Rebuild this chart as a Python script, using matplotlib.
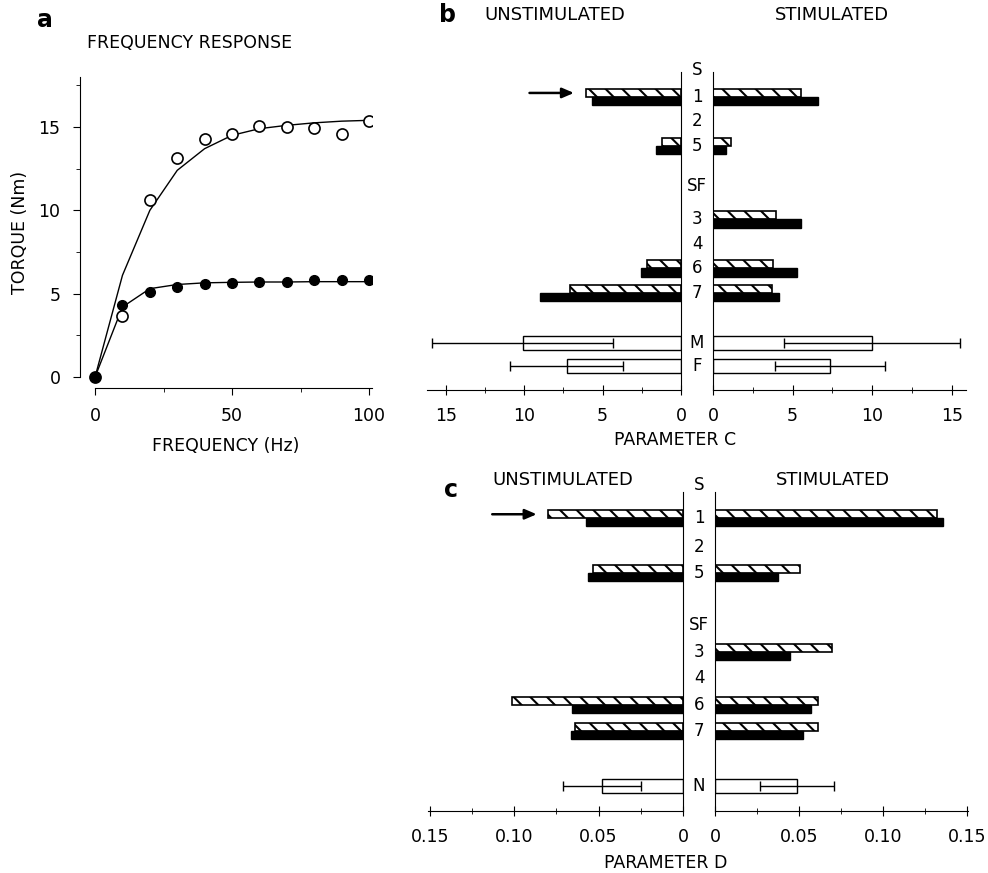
import numpy as np
import matplotlib
matplotlib.use('Agg')
import matplotlib.pyplot as plt
from matplotlib.transforms import blended_transform_factory

plt.rcParams['font.family'] = ['DejaVu Sans']
plt.rcParams['hatch.linewidth'] = 1.5

# ---- panel a : frequency response ----
freq = [0, 10, 20, 30, 40, 50, 60, 70, 80, 90, 100]
torque_open = [0, 3.65, 10.6, 13.15, 14.25, 14.6, 15.05, 14.97, 14.95, 14.6, 15.35]
torque_open_fit = [0, 6.1, 10.0, 12.4, 13.7, 14.5, 14.9, 15.1, 15.25, 15.35, 15.4]
torque_filled = [0, 4.3, 5.1, 5.4, 5.58, 5.66, 5.7, 5.73, 5.8, 5.8, 5.8]
torque_filled_fit = [0, 4.2, 5.3, 5.55, 5.65, 5.68, 5.7, 5.7, 5.72, 5.72, 5.72]

# ---- panel b : parameter C ----
rows_b = ['S', '1', '2', '5', 'SF', '3', '4', '6', '7', 'M', 'F']
muscles_b = ['1', '5', '3', '6', '7']
c_unstim_hatch = [6.05, 1.2, 0, 2.15, 7.05]
c_unstim_solid = [5.65, 1.6, 0, 2.55, 9.0]
c_stim_hatch = [5.55, 1.15, 3.95, 3.8, 3.7]
c_stim_solid = [6.6, 0.8, 5.55, 5.25, 4.15]
groups_b = ['M', 'F']
c_unstim_mean = [10.1, 7.3]
c_unstim_sd = [5.75, 3.6]
c_stim_mean = [10.0, 7.35]
c_stim_sd = [5.55, 3.45]

# ---- panel c : parameter D ----
rows_c = ['S', '1', '2', '5', 'SF', '3', '4', '6', '7', 'N']
muscles_c = ['1', '5', '3', '6', '7']
d_unstim_hatch = [0.080, 0.053, 0, 0.1015, 0.064]
d_unstim_solid = [0.0575, 0.0565, 0, 0.066, 0.0665]
d_stim_hatch = [0.132, 0.0506, 0.0696, 0.0613, 0.0613]
d_stim_solid = [0.1357, 0.0375, 0.0446, 0.057, 0.0524]
groups_c = ['N']
d_unstim_mean = [0.048]
d_unstim_sd = [0.023]
d_stim_mean = [0.0488]
d_stim_sd = [0.022]

# layout (row slots, not data)
pos_b = [0, 1.1, 2.1, 3.1, 4.75, 6.1, 7.1, 8.1, 9.1, 11.15, 12.1]
pos_c = [0, 1.25, 2.34, 3.32, 5.28, 6.3, 7.28, 8.3, 9.28, 11.36]

W, H = 988, 873
fig = plt.figure(figsize=(W / 100, H / 100), dpi=100)


def box(l, r, t, b):
    return [l / W, 1 - b / H, (r - l) / W, (b - t) / H]


FS = 12.5

# ---------------- panel a ----------------
ax = fig.add_axes(box(80, 372, 77, 388))
ax.plot(freq, torque_open_fit, color='black', lw=1)
ax.plot(freq, torque_filled_fit, color='black', lw=1)
ax.plot(freq, torque_open, 'o', mfc='white', mec='black', ms=8, mew=1.2)
ax.plot(freq, torque_filled, 'o', color='black', ms=7)
ax.set_xlim(-5.5, 101.1)
ax.set_ylim(-0.66, 18)
ax.spines['top'].set_visible(False)
ax.spines['right'].set_visible(False)
ax.spines['left'].set_bounds(0, 18)
ax.spines['bottom'].set_bounds(0, 101)
ax.set_xticks([0, 50, 100])
ax.set_xticks([25, 75], minor=True)
ax.set_yticks([0, 5, 10, 15])
ax.set_yticks([2.5, 7.5, 12.5, 17.5], minor=True)
ax.tick_params(which='major', direction='out', length=5, pad=9, labelsize=FS)
ax.tick_params(which='minor', direction='out', length=3)
ax.set_xlabel('FREQUENCY (Hz)', fontsize=FS, labelpad=8)
ax.set_ylabel('TORQUE (Nm)', fontsize=FS, labelpad=7)
fig.text(190 / W, 1 - 43 / H, 'FREQUENCY RESPONSE', ha='center', va='center', fontsize=FS)
fig.text(45 / W, 1 - 20 / H, 'a', ha='center', va='center', fontsize=17, fontweight='bold')


def half(ax, side, hatch_vals, solid_vals, mean, sd, rows, pos, muscles, groups,
         off, bh, boxh, xmax, major, minor):
    lookup = dict(zip(rows, pos))
    hy = [lookup[m] - off for m, v in zip(muscles, hatch_vals) if v > 0]
    hv = [v for v in hatch_vals if v > 0]
    sy = [lookup[m] + off for m, v in zip(muscles, solid_vals) if v > 0]
    sv = [v for v in solid_vals if v > 0]
    yg = [lookup[g] for g in groups]
    ax.barh(hy, hv, height=bh, color='white', edgecolor='black',
            hatch='\\\\', lw=1.2)
    ax.barh(sy, sv, height=bh, color='black', edgecolor='black', lw=1)
    ax.barh(yg, mean, height=boxh, color='white', edgecolor='black', lw=1)
    ax.errorbar(mean, yg, xerr=sd, fmt='none', ecolor='black', elinewidth=1,
                capsize=3.5, capthick=1)
    if side == 'left':
        ax.set_xlim(xmax, 0)
        ax.spines['left'].set_visible(False)
    else:
        ax.set_xlim(0, xmax)
        ax.spines['right'].set_visible(False)
    ax.spines['top'].set_visible(False)
    ax.set_yticks([])
    ax.set_xticks(major)
    ax.set_xticks(minor, minor=True)
    ax.tick_params(which='major', direction='inout', length=7, pad=9, labelsize=FS)
    ax.tick_params(which='minor', direction='inout', length=5)


# ---------------- panel b ----------------
axbL = fig.add_axes(box(427, 681, 72, 390))
axbR = fig.add_axes(box(713, 966, 72, 390))
tick_b = [0, 5, 10, 15]
minor_b = [2.5, 7.5, 12.5]
half(axbL, 'left', c_unstim_hatch, c_unstim_solid, c_unstim_mean, c_unstim_sd,
     rows_b, pos_b, muscles_b, groups_b, 0.165, 0.33, 0.57, 16.2, tick_b, minor_b)
half(axbR, 'right', c_stim_hatch, c_stim_solid, c_stim_mean, c_stim_sd,
     rows_b, pos_b, muscles_b, groups_b, 0.165, 0.33, 0.57, 15.9, tick_b, minor_b)
for a_ in (axbL, axbR):
    a_.set_ylim(13.06, 0.08)
axbL.set_xticklabels(['0', '5', '10', '15'])

tr = blended_transform_factory(fig.transFigure, axbL.transData)
for r, p in zip(rows_b, pos_b):
    axbL.text(697 / W, p, r, transform=tr, ha='center', va='center',
              fontsize=12, clip_on=False)
axbL.annotate('', xy=(c_unstim_hatch[0] + 0.6, pos_b[1] - 0.165),
              xytext=(-36, 0), textcoords='offset points',
              arrowprops=dict(arrowstyle='-|>,head_length=0.7,head_width=0.3',
                              color='black', lw=1.8))
fig.text(555 / W, 1 - 15 / H, 'UNSTIMULATED', ha='center', va='center', fontsize=13)
fig.text(832 / W, 1 - 15 / H, 'STIMULATED', ha='center', va='center', fontsize=13)
fig.text(447 / W, 1 - 15 / H, 'b', ha='center', va='center', fontsize=17, fontweight='bold')
fig.text(675 / W, 1 - 440 / H, 'PARAMETER C', ha='center', va='center', fontsize=FS)

# ---------------- panel c ----------------
axcL = fig.add_axes(box(428, 683, 492, 811))
axcR = fig.add_axes(box(715, 968, 492, 811))
tick_c = [0, 0.05, 0.10, 0.15]
minor_c = [0.025, 0.075, 0.125]
half(axcL, 'left', d_unstim_hatch, d_unstim_solid, d_unstim_mean, d_unstim_sd,
     rows_c, pos_c, muscles_c, groups_c, 0.15, 0.3, 0.5, 0.151, tick_c, minor_c)
half(axcR, 'right', d_stim_hatch, d_stim_solid, d_stim_mean, d_stim_sd,
     rows_c, pos_c, muscles_c, groups_c, 0.15, 0.3, 0.5, 0.1506, tick_c, minor_c)
for a_ in (axcL, axcR):
    a_.set_ylim(12.3, 0.26)
    a_.set_xticklabels(['0', '0.05', '0.10', '0.15'])

tr = blended_transform_factory(fig.transFigure, axcL.transData)
for r, p in zip(rows_c, pos_c):
    axcL.text(699 / W, p, r, transform=tr, ha='center', va='center',
              fontsize=12, clip_on=False)
axcL.annotate('', xy=(d_unstim_hatch[0] + 0.005, pos_c[1] - 0.15),
              xytext=(-36, 0), textcoords='offset points',
              arrowprops=dict(arrowstyle='-|>,head_length=0.7,head_width=0.3',
                              color='black', lw=1.8))
fig.text(563 / W, 1 - 480 / H, 'UNSTIMULATED', ha='center', va='center', fontsize=13)
fig.text(833 / W, 1 - 480 / H, 'STIMULATED', ha='center', va='center', fontsize=13)
fig.text(451 / W, 1 - 490 / H, 'c', ha='center', va='center', fontsize=17, fontweight='bold')
fig.text(666 / W, 1 - 863 / H, 'PARAMETER D', ha='center', va='center', fontsize=FS)

fig.savefig('out.png', dpi=100, facecolor='white')
